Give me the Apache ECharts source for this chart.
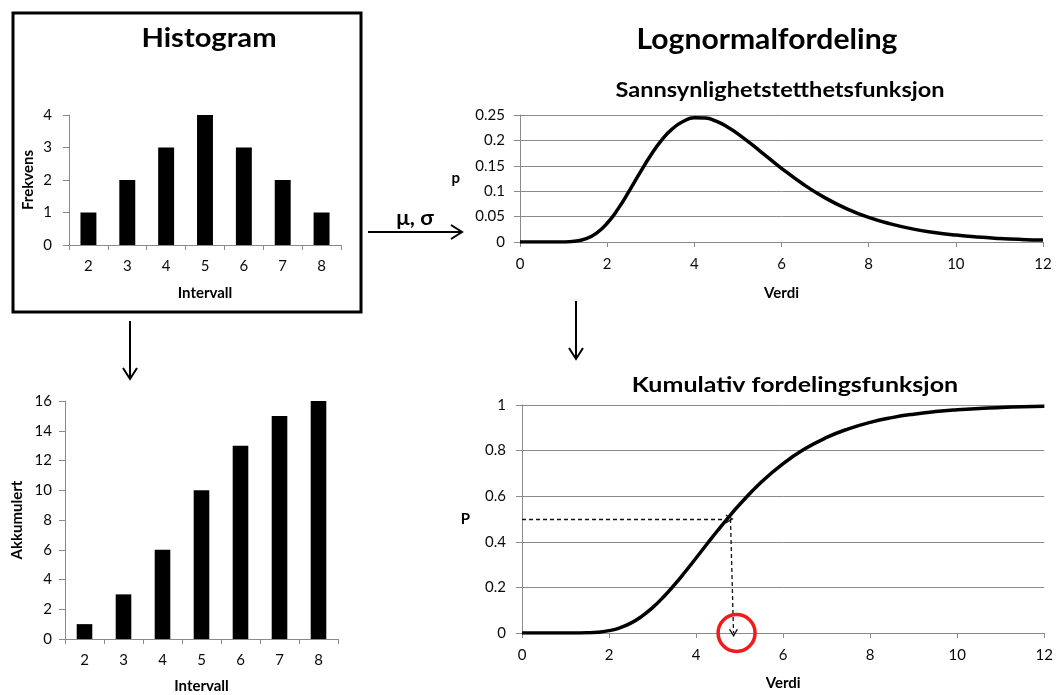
<!DOCTYPE html>
<html>
<head>
<meta charset="utf-8">
<title>Lognormalfordeling</title>
<script src="https://cdn.jsdelivr.net/npm/echarts@6/dist/echarts.min.js"></script>
<style>
  html, body { margin: 0; padding: 0; background: #fff; }
  #chart { width: 1056px; height: 695px; }
</style>
</head>
<body>
<div id="chart"></div>
<script>
// Histogram: frequency per interval, and its running total
const intervals = ['2', '3', '4', '5', '6', '7', '8'];
const frequency = [1, 2, 3, 4, 3, 2, 1];
const accumulated = [1, 3, 6, 10, 13, 15, 16];

// Fitted lognormal curve, sampled along "Verdi"
const verdi = [0, 0.5, 1, 1.25, 1.5, 1.75, 2, 2.25, 2.5, 2.75, 3, 3.25, 3.5, 3.75, 4, 4.25, 4.5, 4.75, 5,
               5.5, 6, 6.5, 7, 7.5, 8, 8.5, 9, 9.5, 10, 10.5, 11, 11.5, 12];
const density = [0, 0, 0.0002, 0.0014, 0.006, 0.0171, 0.0369, 0.0652, 0.0995, 0.136, 0.1708, 0.2005, 0.2231,
                 0.2377, 0.2444, 0.244, 0.2378, 0.2269, 0.2129, 0.1796, 0.1451, 0.1136, 0.0869, 0.0653, 0.0484,
                 0.0356, 0.0259, 0.0188, 0.0136, 0.0098, 0.0071, 0.0051, 0.0037];
const cumulative = [0, 0, 0, 0.0002, 0.001, 0.0037, 0.0103, 0.0229, 0.0434, 0.0728, 0.1112, 0.1578, 0.2109,
                    0.2687, 0.3291, 0.3903, 0.4506, 0.5087, 0.5638, 0.6621, 0.7433, 0.8078, 0.8577, 0.8955,
                    0.9238, 0.9446, 0.9599, 0.971, 0.979, 0.9848, 0.989, 0.992, 0.9942];

// Reading the median off the cumulative curve
const medianP = 0.5;
const medianVerdi = 4.77;
const medianFoot = 4.86;
const markedVerdi = 4.93;

const pairs = (xs, ys) => xs.map((x, i) => [x, ys[i]]);

const FONT = 'Lato, "Open Sans", sans-serif';
const AXIS_GREY = '#8a8a8a';
const LABEL = { color: '#0a0a0a', fontFamily: FONT, fontSize: 15 };
const NAME = { color: '#000', fontFamily: FONT, fontSize: 15, fontWeight: 'bold' };

// Open chevron pointing up, used as an arrow head on the dashed guides
const CHEVRON = 'path://M5,0 L10,9 L8.6,9.6 L5,3 L1.4,9.6 L0,9 Z';

function catX(grid, name, gap) {
  return {
    type: 'category', gridIndex: grid, data: intervals,
    name: name, nameLocation: 'middle', nameGap: gap, nameTextStyle: NAME,
    axisLine: { lineStyle: { color: AXIS_GREY, width: 1 } },
    axisTick: { show: true, length: 5, lineStyle: { color: AXIS_GREY } },
    axisLabel: Object.assign({ margin: 14 }, LABEL)
  };
}
function valY(grid, max, interval, name, gap, gridLines, margin) {
  return {
    type: 'value', gridIndex: grid, min: 0, max: max, interval: interval,
    name: name, nameLocation: 'middle', nameGap: gap, nameRotate: name.length > 1 ? 90 : 0,
    nameTextStyle: NAME,
    axisLine: { show: true, lineStyle: { color: AXIS_GREY, width: 1 } },
    axisTick: { show: true, length: 6, lineStyle: { color: AXIS_GREY } },
    axisLabel: Object.assign({ margin: margin }, LABEL),
    splitLine: { show: gridLines, lineStyle: { color: AXIS_GREY, width: 1 } }
  };
}
function verdiX(grid, gap) {
  return {
    type: 'value', gridIndex: grid, min: 0, max: 12, interval: 2,
    name: 'Verdi', nameLocation: 'middle', nameGap: gap, nameTextStyle: NAME,
    axisLine: { onZero: false, lineStyle: { color: AXIS_GREY, width: 1 } },
    axisTick: { show: true, length: 5, lineStyle: { color: AXIS_GREY } },
    axisLabel: Object.assign({ margin: 15 }, LABEL),
    splitLine: { show: false }
  };
}
function heading(text, x, y, size, stretch) {
  return {
    type: 'text', x: x, y: y, z: 10, scaleX: stretch,
    style: { text: text, font: 'bold ' + size + 'px ' + FONT, fill: '#000',
             textAlign: 'center', textVerticalAlign: 'middle' }
  };
}

const chart = echarts.init(document.getElementById('chart'), null, { renderer: 'canvas' });

const option = {
  backgroundColor: '#ffffff',
  animation: false,
  grid: [
    { left: 69, top: 115, width: 272, height: 130 },
    { left: 65, top: 401, width: 273, height: 238 },
    { left: 520, top: 115, width: 523, height: 127 },
    { left: 522, top: 405, width: 523, height: 228 }
  ],
  xAxis: [
    catX(0, 'Intervall', 41),
    catX(1, 'Intervall', 40),
    verdiX(2, 44),
    verdiX(3, 43)
  ],
  yAxis: [
    valY(0, 4, 1, 'Frekvens', 33, false, 17),
    valY(1, 16, 2, 'Akkumulert', 40, false, 13),
    valY(2, 0.25, 0.05, 'p', 60, true, 15),
    valY(3, 1, 0.2, 'P', 52, true, 16)
  ],
  series: [
    {
      type: 'bar', xAxisIndex: 0, yAxisIndex: 0, data: frequency,
      barWidth: '41%', itemStyle: { color: '#000' }
    },
    {
      type: 'bar', xAxisIndex: 1, yAxisIndex: 1, data: accumulated,
      barWidth: '40%', itemStyle: { color: '#000' }
    },
    {
      type: 'line', xAxisIndex: 2, yAxisIndex: 2, data: pairs(verdi, density),
      smooth: true, showSymbol: false, symbol: 'none',
      lineStyle: { color: '#000', width: 3.5 }
    },
    {
      type: 'line', xAxisIndex: 3, yAxisIndex: 3, data: pairs(verdi, cumulative),
      smooth: true, showSymbol: false, symbol: 'none',
      lineStyle: { color: '#000', width: 3.5 },
      z: 3,
      markLine: {
        silent: true, animation: false,
        symbol: ['none', CHEVRON], symbolSize: [9, 8],
        label: { show: false },
        lineStyle: { color: '#111', width: 1.3, type: [4, 3] },
        emphasis: { disabled: true },
        data: [
          [{ coord: [0, medianP] }, { coord: [medianVerdi, medianP] }],
          [{ coord: [medianVerdi + 0.02, medianP] }, { coord: [medianFoot, 0] }]
        ]
      },
      markPoint: {
        silent: true, animation: false,
        symbol: 'circle', symbolSize: 37,
        label: { show: false },
        itemStyle: { color: 'rgba(0,0,0,0)', borderColor: '#ee1c1c', borderWidth: 3.5 },
        data: [{ coord: [markedVerdi, 0] }]
      }
    }
  ],
  graphic: [
    // Frame round the histogram panel
    { type: 'rect', shape: { x: 13, y: 13, width: 348, height: 299 },
      style: { fill: 'none', stroke: '#000', lineWidth: 3 }, z: 10 },
    heading('Histogram', 209, 38, 27, 1.08),
    heading('Lognormalfordeling', 767, 40, 28, 1.075),
    heading('Sannsynlighetstetthetsfunksjon', 780, 90, 21, 1.12),
    heading('Kumulativ fordelingsfunksjon', 795, 385, 21, 1.19),
    heading('μ, σ', 415, 219, 20, 1.1),

    // Flow arrows between the panels
    { type: 'line', shape: { x1: 130, y1: 321, x2: 130, y2: 379 }, style: { stroke: '#000', lineWidth: 2 }, z: 10 },
    { type: 'polyline', shape: { points: [[123, 368], [130, 379], [137, 368]] }, style: { stroke: '#000', lineWidth: 2, fill: null }, z: 10 },
    { type: 'line', shape: { x1: 368, y1: 232, x2: 461, y2: 232 }, style: { stroke: '#000', lineWidth: 2 }, z: 10 },
    { type: 'polyline', shape: { points: [[451, 225], [462, 232], [451, 239]] }, style: { stroke: '#000', lineWidth: 2, fill: null }, z: 10 },
    { type: 'line', shape: { x1: 576, y1: 301, x2: 576, y2: 359 }, style: { stroke: '#000', lineWidth: 2 }, z: 10 },
    { type: 'polyline', shape: { points: [[569, 348], [576, 359], [583, 348]] }, style: { stroke: '#000', lineWidth: 2, fill: null }, z: 10 }
  ]
};

chart.setOption(option);
</script>
</body>
</html>
